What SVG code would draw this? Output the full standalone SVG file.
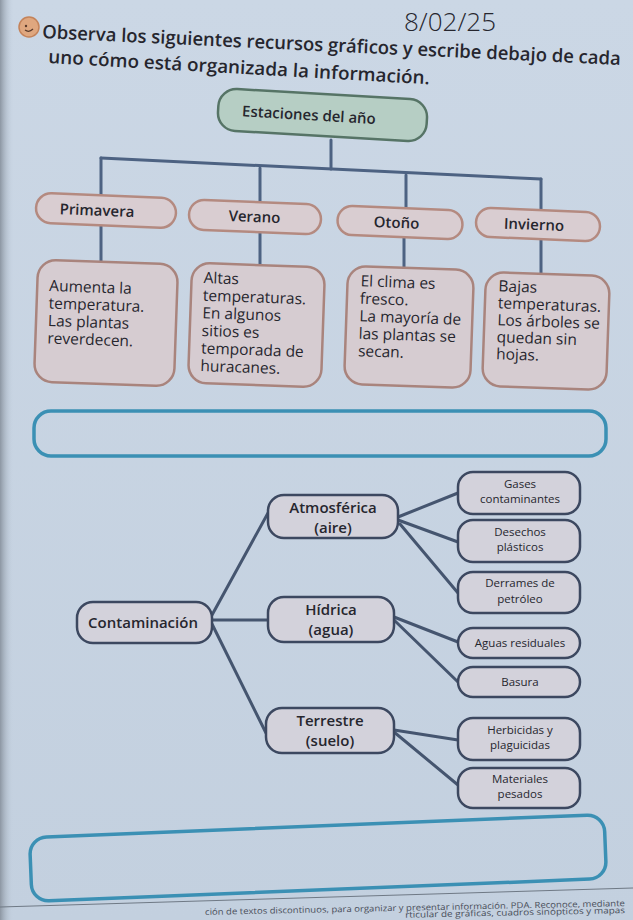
<svg xmlns="http://www.w3.org/2000/svg" width="633" height="920" viewBox="0 0 633 920">
<defs>
<style>
text{font-family:"Open Sans","Noto Sans",sans-serif;fill:#26262e}
.conn{stroke:#4d6282;stroke-width:3;fill:none;stroke-linecap:round}
.conn2{stroke:#45556f;stroke-width:3;fill:none;stroke-linecap:round}
.root{fill:#b6cec4;stroke:#567466;stroke-width:2.5}
.season{fill:#d9cdd1;stroke:#b48a80;stroke-width:2.5}
.desc{fill:#d6ccd1;stroke:#a9847d;stroke-width:2.5}
.cbox{fill:#d3d2db;stroke:#3c4860;stroke-width:2.5}
.ans{fill:none;stroke:#3b90b4;stroke-width:3.5}
.h{font-size:18.5px;font-weight:600}
.t{font-size:15px;font-weight:600;text-anchor:middle}
.d{font-size:15.5px}
.m{font-size:15px;font-weight:600;text-anchor:middle}
.s{font-size:11.5px;text-anchor:middle}
.f{font-size:8.5px;fill:#4a4f5a}
</style>
<linearGradient id="edge" x1="0" y1="0" x2="1" y2="0">
<stop offset="0" stop-color="#8c96a2"/>
<stop offset="1" stop-color="#c8d5e4" stop-opacity="0"/>
</linearGradient>
<linearGradient id="bg" x1="0" y1="0" x2="0" y2="1">
<stop offset="0" stop-color="#cbd7e5"/>
<stop offset="1" stop-color="#c3d0df"/>
</linearGradient>
</defs>
<rect width="633" height="920" fill="url(#bg)"/>
<rect width="14" height="920" fill="url(#edge)"/>

<g id="header">
<circle cx="29" cy="27" r="10" fill="#dfa77f" stroke="#c4835a" stroke-width="1.5"/>
<circle cx="26" cy="26" r="1.2" fill="#5a3a2a"/>
<path d="M25 30 Q29 33 33 29" stroke="#5a3a2a" stroke-width="1.2" fill="none"/>
<text x="404" y="31" font-size="26" font-weight="300" fill="#2f3550" textLength="92" lengthAdjust="spacingAndGlyphs">8/02/25</text>
<text class="h" x="42" y="38" transform="rotate(2.67 42 38)" textLength="579" lengthAdjust="spacingAndGlyphs">Observa los siguientes recursos gráficos y escribe debajo de cada</text>
<text class="h" x="48" y="63" transform="rotate(3.2 48 63)" textLength="382" lengthAdjust="spacingAndGlyphs">uno cómo está organizada la información.</text>
</g>

<g id="connectors">
<line class="conn" x1="331" y1="140" x2="331" y2="169"/>
<line class="conn" x1="101" y1="158" x2="541" y2="179"/>
<line class="conn" x1="101" y1="158" x2="101" y2="195"/>
<line class="conn" x1="260" y1="168" x2="260" y2="202"/>
<line class="conn" x1="406" y1="175" x2="406" y2="209"/>
<line class="conn" x1="541" y1="179" x2="541" y2="211"/>
<line class="conn" x1="101" y1="226" x2="101" y2="262"/>
<line class="conn" x1="260" y1="232" x2="260" y2="265"/>
<line class="conn" x1="404" y1="236" x2="404" y2="269"/>
<line class="conn" x1="541" y1="238" x2="541" y2="274"/>
<line class="conn2" x1="212" y1="615" x2="268" y2="513"/>
<line class="conn2" x1="212" y1="620" x2="268" y2="620"/>
<line class="conn2" x1="212" y1="624" x2="266" y2="733"/>
<line class="conn2" x1="398" y1="517" x2="458" y2="493"/>
<line class="conn2" x1="398" y1="520" x2="458" y2="542"/>
<line class="conn2" x1="400" y1="524" x2="458" y2="593"/>
<line class="conn2" x1="394" y1="617" x2="458" y2="642"/>
<line class="conn2" x1="394" y1="620" x2="458" y2="682"/>
<line class="conn2" x1="394" y1="730" x2="458" y2="740"/>
<line class="conn2" x1="394" y1="732" x2="458" y2="785"/>
</g>

<g id="root" transform="rotate(3.3 322.5 115)">
<rect class="root" x="218" y="94" width="209" height="42" rx="18"/>
<text x="309" y="121" font-size="15" font-weight="600" text-anchor="middle">Estaciones del año</text>
</g>

<g id="primavera" transform="rotate(2.3 106 210.5)">
<rect class="season" x="36" y="195.5" width="140" height="30" rx="15"/>
<text class="t" x="97" y="216">Primavera</text>
</g>
<g id="verano" transform="rotate(2.3 255 217)">
<rect class="season" x="189" y="202" width="132" height="30" rx="15"/>
<text class="t" x="254.5" y="222">Verano</text>
</g>
<g id="otono" transform="rotate(2.3 400 222.5)">
<rect class="season" x="337.5" y="208" width="125" height="29" rx="14.5"/>
<text class="t" x="396.5" y="228">Otoño</text>
</g>
<g id="invierno" transform="rotate(2.3 538 224.5)">
<rect class="season" x="476" y="210" width="124" height="29" rx="14.5"/>
<text class="t" x="534" y="230">Invierno</text>
</g>

<g id="primavera-desc" transform="rotate(2 106 323)">
<rect class="desc" x="36" y="262" width="140" height="122" rx="18"/>
<text class="d" x="48" y="293">Aumenta la</text>
<text class="d" x="48" y="310.5">temperatura.</text>
<text class="d" x="48" y="328">Las plantas</text>
<text class="d" x="48" y="345.5">reverdecen.</text>
</g>
<g id="verano-desc" transform="rotate(2 256.5 325)">
<rect class="desc" x="190" y="265" width="133" height="120" rx="18"/>
<text class="d" x="202" y="285">Altas</text>
<text class="d" x="202" y="302.6">temperaturas.</text>
<text class="d" x="202" y="320.2">En algunos</text>
<text class="d" x="202" y="337.8">sitios es</text>
<text class="d" x="202" y="355.4">temporada de</text>
<text class="d" x="202" y="373">huracanes.</text>
</g>
<g id="otono-desc" transform="rotate(2 409 327)">
<rect class="desc" x="346" y="268" width="126" height="118" rx="18"/>
<text class="d" x="359" y="288">El clima es</text>
<text class="d" x="359" y="305.5">fresco.</text>
<text class="d" x="359" y="323">La mayoría de</text>
<text class="d" x="359" y="340.5">las plantas se</text>
<text class="d" x="359" y="358">secan.</text>
</g>
<g id="invierno-desc" transform="rotate(2 546 331)">
<rect class="desc" x="484" y="274" width="124" height="114" rx="18"/>
<text class="d" x="497" y="293">Bajas</text>
<text class="d" x="497" y="310">temperaturas.</text>
<text class="d" x="497" y="327">Los árboles se</text>
<text class="d" x="497" y="344">quedan sin</text>
<text class="d" x="497" y="361">hojas.</text>
</g>

<g id="answer1">
<rect class="ans" x="34" y="411" width="572" height="45" rx="17"/>
</g>

<g id="contaminacion">
<rect class="cbox" x="77" y="602" width="135" height="41" rx="16"/>
<text class="m" x="143" y="628" font-size="16">Contaminación</text>
</g>
<g id="atmosferica">
<rect class="cbox" x="268" y="495" width="130" height="43" rx="16"/>
<text class="m" x="333" y="512.5">Atmosférica</text>
<text class="m" x="333" y="532.5">(aire)</text>
</g>
<g id="hidrica">
<rect class="cbox" x="268" y="597" width="126" height="45" rx="16"/>
<text class="m" x="331" y="614.5">Hídrica</text>
<text class="m" x="331" y="634.5">(agua)</text>
</g>
<g id="terrestre">
<rect class="cbox" x="266" y="708" width="128" height="45" rx="16"/>
<text class="m" x="330" y="725.5">Terrestre</text>
<text class="m" x="330" y="745.5">(suelo)</text>
</g>

<g id="gases">
<rect class="cbox" x="458" y="472" width="122" height="42" rx="15"/>
<text class="s" x="520" y="487.5">Gases</text>
<text class="s" x="520" y="503">contaminantes</text>
</g>
<g id="desechos">
<rect class="cbox" x="458" y="520" width="122" height="42" rx="15"/>
<text class="s" x="520" y="535.5">Desechos</text>
<text class="s" x="520" y="551">plásticos</text>
</g>
<g id="derrames">
<rect class="cbox" x="458" y="572" width="122" height="41" rx="15"/>
<text class="s" x="520" y="587">Derrames de</text>
<text class="s" x="520" y="602.5">petróleo</text>
</g>
<g id="aguas">
<rect class="cbox" x="458" y="628" width="122" height="30" rx="15"/>
<text class="s" x="520" y="647">Aguas residuales</text>
</g>
<g id="basura">
<rect class="cbox" x="458" y="667" width="122" height="30" rx="15"/>
<text class="s" x="520" y="686">Basura</text>
</g>
<g id="herbicidas">
<rect class="cbox" x="458" y="718" width="122" height="42" rx="15"/>
<text class="s" x="520" y="733.5">Herbicidas y</text>
<text class="s" x="520" y="749">plaguicidas</text>
</g>
<g id="materiales">
<rect class="cbox" x="458" y="768" width="122" height="40" rx="15"/>
<text class="s" x="520" y="782.5">Materiales</text>
<text class="s" x="520" y="798">pesados</text>
</g>

<g id="answer2">
<rect class="ans" x="30.5" y="826" width="575" height="64" rx="17" transform="rotate(-2.3 318 858)"/>
</g>

<g id="footer">
<line x1="0" y1="907" x2="633" y2="888" stroke="#6f7985" stroke-width="1"/>
<g transform="rotate(-1.2 415 910)">
<text class="f" x="205" y="910.5" textLength="420" lengthAdjust="spacingAndGlyphs">ción de textos discontinuos, para organizar y presentar información. PDA. Reconoce, mediante</text>
<text class="f" x="405" y="917.5" textLength="220" lengthAdjust="spacingAndGlyphs">rticular de gráficas, cuadros sinópticos y mapas</text>
</g>
</g>
</svg>
